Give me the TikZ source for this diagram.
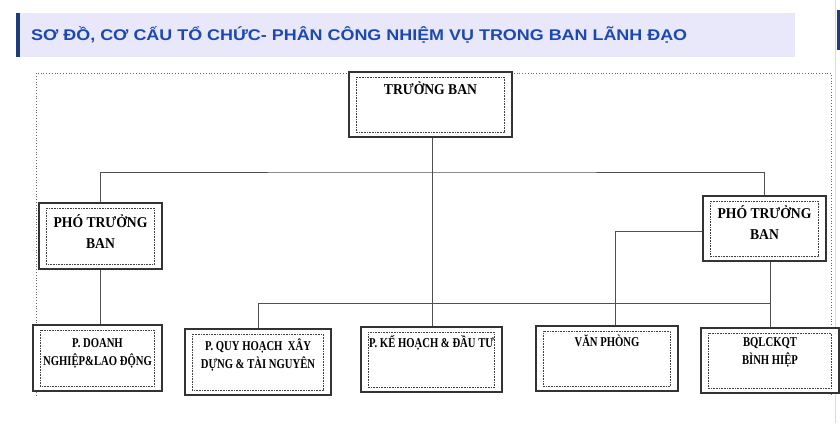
\documentclass[tikz,border=0pt]{standalone}
\usepackage{fontspec}
\setmainfont{Liberation Serif}
\newfontfamily\hdfont{Liberation Sans}
\newfontfamily\topfont[FakeStretch=0.91]{Liberation Serif}
\newfontfamily\lowfont[FakeStretch=0.79]{Liberation Serif}
\usetikzlibrary{calc}

\definecolor{bandbg}{RGB}{232,232,250}
\definecolor{bandbar}{RGB}{31,61,122}
\definecolor{titleblue}{RGB}{28,72,178}
\definecolor{linegray}{RGB}{80,80,80}

\tikzset{
box/.style={draw=black!80, line width=1.1pt, fill=white, rectangle, inner sep=0pt},
inbox/.style={draw=black!75, densely dotted, line width=0.6pt},
toptxt/.style={font=\topfont\fontsize{15}{21}\selectfont\bfseries, align=center, inner sep=0pt, anchor=north},
lowtxt/.style={font=\lowfont\fontsize{13.5}{18}\selectfont\bfseries, align=center, inner sep=0pt, anchor=north},
conn/.style={draw=linegray, line width=0.9pt},
frame/.style={draw=black!60, dotted, line width=0.8pt}}

\begin{document}
\begin{tikzpicture}[x=1pt,y=1pt,yscale=-1]
\useasboundingbox (0,0) rectangle (840,423);

%header band
\fill [bandbg] (16,13) rectangle (795,57);
\fill [bandbar] (16,13) rectangle (20,57);
\node (title) [anchor=west, inner sep=0pt, text=titleblue] at (31,35)
  {\resizebox{656pt}{\height}{\hdfont\fontsize{15.5}{18}\selectfont\bfseries SƠ ĐỒ, CƠ CẤU TỔ CHỨC- PHÂN CÔNG NHIỆM VỤ TRONG BAN LÃNH ĐẠO}};
%page edge on the right
\draw [black!15, line width=1pt] (835.5,0) -- (835.5,423);
\fill [bandbar] (837,10) rectangle (840,50);

%outer dotted frame
\draw [frame] (36,396) -- (36,73) -- (831,73) -- (831,396);

%boxes
\node (tb)  [box, minimum width=163pt, minimum height=65pt] at (430.5,104.5) {};
\node (ptl) [box, minimum width=123pt, minimum height=66pt] at (100.5,236) {};
\node (ptr) [box, minimum width=123pt, minimum height=65pt] at (764.5,228.5) {};
\node (pdn) [box, minimum width=129pt, minimum height=66pt] at (97.5,358) {};
\node (pqh) [box, minimum width=146pt, minimum height=66pt] at (258,362) {};
\node (pkh) [box, minimum width=141pt, minimum height=65pt] at (431.5,359.5) {};
\node (vp)  [box, minimum width=142pt, minimum height=65pt] at (607,358.5) {};
\node (bq)  [box, minimum width=138pt, minimum height=65pt] at (770,360.5) {};

%inner dotted frames
\foreach \b in {tb,ptl,ptr,pdn,pqh,pkh,vp,bq}
  \draw [inbox] ($(\b.north west)+(7.5,6)$) rectangle ($(\b.south east)+(-8,-5.5)$);

%texts
\node (tbt)  [toptxt] at ($(tb.north)+(0,10)$) {TRƯỞNG BAN};
\node (ptlt) [toptxt] at ($(ptl.north)+(0,11.5)$) {PHÓ TRƯỞNG\\BAN};
\node (ptrt) [toptxt] at ($(ptr.north)+(0,10)$) {PHÓ TRƯỞNG\\BAN};
\node (pdnt) [lowtxt] at ($(pdn.north)+(0,13.5)$) {P. DOANH\\NGHIỆP\&LAO ĐỘNG};
\node (pqht) [lowtxt] at ($(pqh.north)+(0,10)$) {P. QUY HOẠCH\ \ XÂY\\DỰNG \& TÀI NGUYÊN};
\node (pkht) [lowtxt] at ($(pkh.north)+(0,8.5)$) {P. KẾ HOẠCH \& ĐẦU TƯ};
\node (vpt)  [lowtxt] at ($(vp.north)+(0,9.5)$) {VĂN PHÒNG};
\node (bqt)  [lowtxt] at ($(bq.north)+(0,10)$) {BQLCKQT\\BÌNH HIỆP};

%connectors
\coordinate (bus1) at (432,172);
\coordinate (bus2) at (770,303);
\draw [conn] ([xshift=1.5pt]tb.south) -- ([xshift=1.5pt]tb.south |- pkh.north);
\draw [conn] (ptl.north) |- (bus1) -| (ptr.north);
\draw [conn] (ptl.south) -- (ptl.south |- pdn.north);
\draw [conn] ([yshift=2.5pt]ptr.west) -| ([xshift=8pt]vp.north);
\draw [conn] (bq.north) -- (bq.north |- ptr.south);
\draw [conn] (pqh.north) |- (bus2);

\end{tikzpicture}
\end{document}
